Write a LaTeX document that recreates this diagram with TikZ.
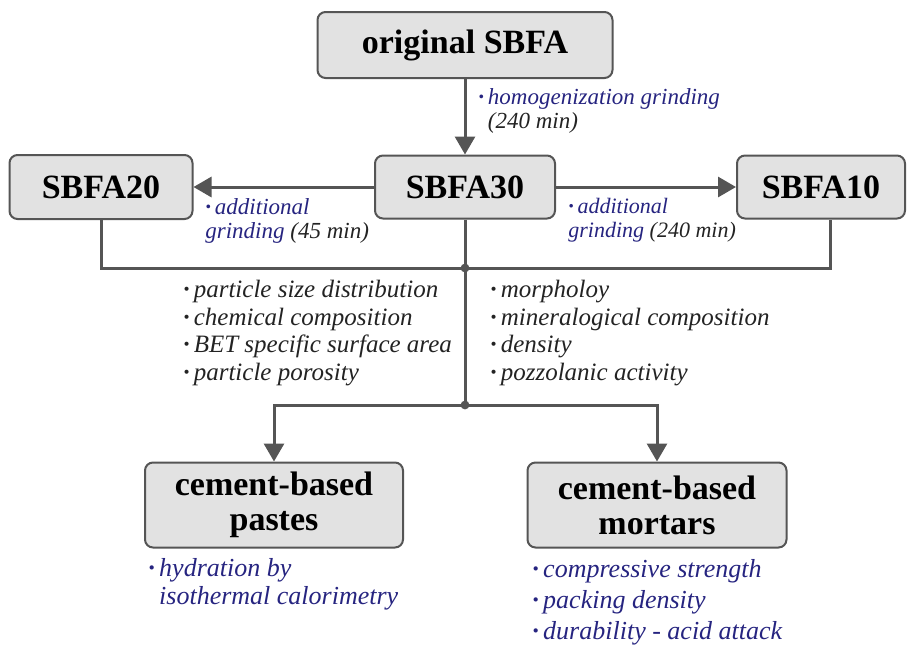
\documentclass[tikz,border=0pt]{standalone}
\usepackage{fontspec}
\setmainfont{Liberation Serif}
\usepackage{tikz}
\usetikzlibrary{arrows.meta, positioning}
\definecolor{linegray}{RGB}{85, 85, 85}
\definecolor{boxgray}{RGB}{226, 226, 226}
\definecolor{labelblue}{RGB}{38, 36, 128}
\definecolor{textdark}{RGB}{35, 35, 35}
\newcommand{\bul}{\textbf{·}\,}

\tikzset{
  stagebox/.style={draw=linegray, fill=boxgray, line width=1pt, rounded corners=4pt,
    font=\bfseries\fontsize{17}{17.5}\selectfont, text=black, align=center, inner sep=2pt},
  link/.style={draw=linegray, line width=1.5pt},
  flow/.style={link, -{Triangle[width=10pt,length=9pt]}},
  steplabel/.style={anchor=north west, inner sep=0pt, align=left, text=labelblue,
    font=\itshape\fontsize{11.5}{12}\selectfont},
  proplist/.style={anchor=north west, inner sep=0pt, align=left, text=textdark,
    font=\itshape\fontsize{12.5}{13.8}\selectfont},
  testlist/.style={anchor=north west, inner sep=0pt, align=left, text=labelblue,
    font=\itshape\fontsize{13}{14}\selectfont}
}

\begin{document}
\begin{tikzpicture}[x=0.5pt, y=-0.5pt]
  \useasboundingbox (0,0) rectangle (909,644);

  % Samples
  \node[stagebox, minimum width=147.5pt, minimum height=33pt] (orig) at (465, 45) {original SBFA};
  \node[stagebox, minimum width=90pt, minimum height=31.5pt] (s30) at (465, 187) {SBFA30};
  \node[stagebox, minimum width=91.5pt, minimum height=32pt] (s20) at (101, 187) {SBFA20};
  \node[stagebox, minimum width=84pt, minimum height=31.5pt] (s10) at (821, 187) {SBFA10};

  % Grinding steps
  \draw[flow] (orig) -- (s30);
  \draw[flow] (s30) -- (s20);
  \draw[flow] (s30) -- (s10);

  \node[steplabel] (hom) at (478, 88) {\bul homogenization grinding\\
    \phantom{\bul}\textcolor{textdark}{(240 min)}};
  \node[steplabel] (add20) at (205, 198) {\bul additional\\
    grinding \textcolor{textdark}{(45 min)}};
  \node[steplabel, font=\itshape\fontsize{11}{12}\selectfont] (add10) at (568, 198) {\bul additional\\
    grinding \textcolor{textdark}{(240 min)}};

  % Characterisation
  \coordinate (j1) at (465, 268);
  \coordinate (j2) at (465, 405);
  \draw[link] (s30) -- (j1);
  \draw[link] (s20.south) |- (j1) -| ([xshift=4.5pt]s10.south);
  \draw[link] (j1) -- (j2);
  \fill[linegray] (j1) circle (2.2pt);
  \fill[linegray] (j2) circle (2.2pt);

  \node[proplist] (propl) at (183, 280) {\bul particle size distribution\\
    \bul chemical composition\\
    \bul BET specific surface area\\
    \bul particle porosity};
  \node[proplist] (propr) at (490, 280) {\bul morpholoy\\
    \bul mineralogical composition\\
    \bul density\\
    \bul pozzolanic activity};

  % Applications
  \node[stagebox, minimum width=129pt, minimum height=42.5pt] (paste) at (274, 505) {cement-based\\pastes};
  \node[stagebox, minimum width=129.5pt, minimum height=42.5pt] (mortar) at (657, 505) {cement-based\\mortars};
  \draw[flow] (j2) -| (paste.north);
  \draw[flow] (j2) -| (mortar.north);

  \node[testlist] (testp) at (148, 558) {\bul hydration by\\
    \phantom{\bul}isothermal calorimetry};
  \node[testlist, font=\itshape\fontsize{13}{15.5}\selectfont] (testm) at (532, 559) {\bul compressive strength\\
    \bul packing density\\
    \bul durability - acid attack};
\end{tikzpicture}
\end{document}
